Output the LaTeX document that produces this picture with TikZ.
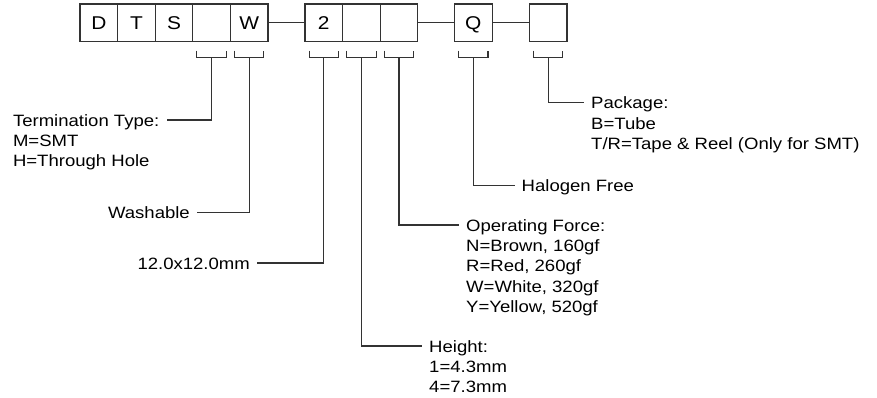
\documentclass[tikz,border=0pt]{standalone}
\usepackage{fontspec}
\setmainfont{Liberation Sans}[FakeStretch=1.13]
\begin{document}
\begin{tikzpicture}[x=1pt,y=-1pt,
  ln/.style={line width=1.1pt, draw=black!80},
  cell/.style={ln, draw, minimum width=37.6pt, minimum height=37.7pt, inner sep=0pt,
    font=\fontsize{18.5}{20}\selectfont, text height=13.2pt, text depth=0pt},
  lbl/.style={font=\fontsize{16.4}{20.3}\selectfont, inner xsep=7pt, inner ysep=0pt, align=left}]
\useasboundingbox (0,0) rectangle (877,398);
% boxes
\node[cell] (cD) at (98.8,22.85) {D};
\node[cell] (cT) at (136.4,22.85) {T};
\node[cell] (cS) at (174.0,22.85) {S};
\node[cell] (c4) at (211.6,22.85) {};
\node[cell] (cW) at (249.2,22.85) {W};
\node[cell] (c2) at (323.8,22.85) {2};
\node[cell] (c7) at (361.4,22.85) {};
\node[cell] (c8) at (399.0,22.85) {};
\node[cell] (cQ) at (473.3,22.85) {Q};
\node[cell] (cP) at (548.2,22.85) {};
\draw[ln] (cW.east) -- (c2.west);
\draw[ln] (c8.east) -- (cQ.west);
\draw[ln] (cQ.east) -- (cP.west);
% brackets
\foreach \b in {c4,cW,c2,c7,c8,cQ,cP}{
  \draw[ln] ([shift={(-14.7,8.3)}]\b.south) -- ++(0,6.7) -- ++(29.4,0) -- ++(0,-6.7);
  \coordinate (\b b) at ([yshift=-15pt]\b.south);
}
% labels
\node[lbl, anchor=north east] (term) at (166.5,111.8) {\strut Termination Type:\\\strut M=SMT\\\strut H=Through Hole};
\node[lbl, anchor=north east] (wash) at (197,204.5) {\strut Washable};
\node[lbl, anchor=north east] (size) at (257,254.8) {\strut 12.0x12.0mm};
\node[lbl, anchor=north west] (hgt) at (422,337.8) {\strut Height:\\\strut 1=4.3mm\\\strut 4=7.3mm};
\node[lbl, anchor=north west] (force) at (459,216.8) {\strut Operating Force:\\\strut N=Brown, 160gf\\\strut R=Red, 260gf\\\strut W=White, 320gf\\\strut Y=Yellow, 520gf};
\node[lbl, anchor=north west] (halo) at (514.5,177.5) {\strut Halogen Free};
\node[lbl, anchor=north west] (pkg) at (584,94.5) {\strut Package:\\\strut B=Tube\\\strut T/R=Tape \& Reel (Only for SMT)};
% connectors
\draw[ln] (c4b) |- ([yshift=-8.2pt]term.north east);
\draw[ln] (cWb) |- ([yshift=-8.2pt]wash.north east);
\draw[ln] (c2b) |- ([yshift=-8.2pt]size.north east);
\draw[ln] (c7b) |- ([yshift=-8.2pt]hgt.north west);
\draw[ln] (c8b) |- ([yshift=-8.2pt]force.north west);
\draw[ln] (cQb) |- ([yshift=-8.2pt]halo.north west);
\draw[ln] (cPb) |- ([yshift=-8.2pt]pkg.north west);
\end{tikzpicture}
\end{document}
